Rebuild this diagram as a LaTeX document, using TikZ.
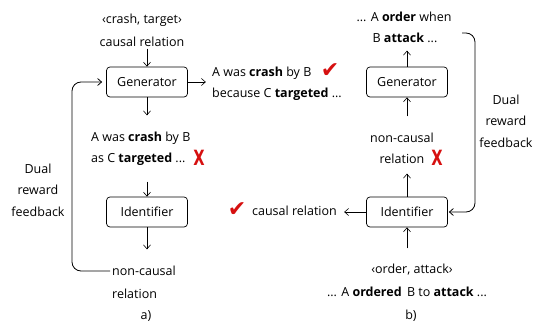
\documentclass[tikz,border=0pt]{standalone}
\usepackage{fontspec}
\setmainfont{Open Sans}
\newfontfamily\symfont{DejaVu Sans}
\usetikzlibrary{arrows.meta}
\definecolor{mark}{RGB}{214,16,16}
\begin{document}
\begin{tikzpicture}[x=1pt,y=-1pt,
  font=\fontsize{12.5}{21.5}\selectfont,
  box/.style={draw,rounded corners=3.5pt,minimum width=81pt,minimum height=30pt,line width=0.7pt,inner sep=0pt},
  txt/.style={inner sep=0pt,align=center},
  arr/.style={-{Straight Barb[length=4pt,width=7pt]},line width=0.6pt},
  fb/.style={arr,rounded corners=9pt,line width=0.8pt},
  chk/.style={inner sep=0pt,text=mark,font=\symfont\fontsize{22}{22}\selectfont},
  crs/.style={inner sep=0pt,text=mark,font=\symfont\fontsize{21}{21}\selectfont\bfseries,xscale=0.7}
]
\useasboundingbox (0,0) rectangle (536,323);
% ---------- panel a ----------
\node[box] (gen1) at (147,82) {Generator};
\node[box] (id1) at (147,212) {Identifier};
\node[txt] (in1a) at (142,20) {‹crash, target›};
\node[txt] (in1b) at (142,42) {causal relation};
\draw[arr] ([yshift=18pt]gen1.north) -- (gen1.north);
\node[txt,anchor=west] (o1a) at (212,73) {A was \textbf{crash} by B};
\node[txt,anchor=west] (o1b) at (212,94) {because C \textbf{targeted} ...};
\node[chk] (ck1) at (330,71) {✔};
\draw[arr] (gen1.east) -- ++(18,0);
\draw[arr] (gen1.south) -- ++(0,18);
\node[txt,anchor=west] (g1a) at (91,138) {A was \textbf{crash} by B};
\node[txt,anchor=west] (g1b) at (91,159) {as C \textbf{targeted} ...};
\node[crs] (x1) at (199,158) {X};
\draw[arr] ([yshift=15pt]id1.north) -- (id1.north);
\draw[arr] (id1.south) -- ++(0,22);
\node[txt,anchor=west] (nc1a) at (112,271) {non-causal};
\node[txt,anchor=west] (nc1b) at (112,294) {relation};
\coordinate (fbL) at (72,0);
\draw[fb,shorten <=2pt,shorten >=4pt] (nc1a.west) -| (fbL |- gen1.west) -- (gen1.west);
\node[txt] (fbl1) at (38,190) {Dual\\reward\\feedback};
\node[txt] (la) at (146,316) {a)};
% ---------- panel b ----------
\node[box] (gen2) at (407,82) {Generator};
\node[box] (id2) at (407,212) {Identifier};
\node[txt] (r1a) at (404,17) {... A \textbf{order} when};
\node[txt] (r1b) at (405,38) {B \textbf{attack} ...};
\draw[arr] (gen2.north) -- ++(0,-16);
\node[txt] (nc2a) at (402,138) {non-causal};
\node[txt] (nc2b) at (402,159) {relation};
\node[crs] (x2) at (437,158) {X};
\draw[arr] ([yshift=-19pt]gen2.south) -- (gen2.south);
\draw[arr] (id2.north) -- ++(0,-23);
\node[txt,anchor=east] (cr2) at (337,211) {causal relation};
\node[chk] (ck2) at (237,210) {✔};
\draw[arr] (id2.west) -- ++(-22,0);
\draw[arr] ([yshift=-21pt]id2.south) -- (id2.south);
\node[txt] (in2a) at (412,270) {‹order, attack›};
\node[txt] (in2b) at (407,292) {... A \textbf{ordered}\, B to \textbf{attack} ...};
\node[txt] (lb) at (411,316) {b)};
\coordinate (fbR) at (475,0);
\draw[fb,shorten >=1pt] (fbR |- r1b.east) ++(-13,-5) -| (fbR |- id2.east) -- (id2.east);
\node[txt] (fbl2) at (506,121) {Dual\\reward\\feedback};
\end{tikzpicture}
\end{document}
